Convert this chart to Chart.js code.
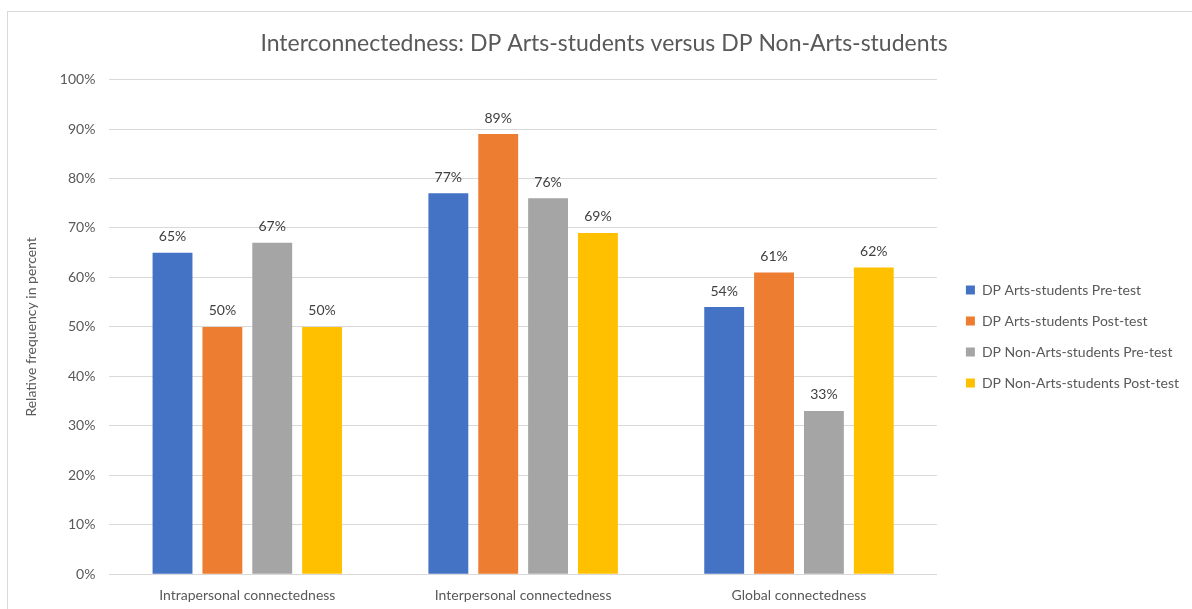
<!DOCTYPE html>
<html>
<head>
<meta charset="utf-8">
<script src="https://cdn.jsdelivr.net/npm/chart.js@4.4.0/dist/chart.umd.min.js"></script>
<style>
  html, body { margin: 0; padding: 0; background: #fff; overflow: hidden; }
  #marco { position: absolute; left: 7px; top: 11px; width: 1300px; height: 800px; border: 1px solid #d9d9d9; }
  #graficoBarras { position: absolute; left: 0; top: 0; }
</style>
</head>
<body>
<div id="marco"></div>
<canvas id="graficoBarras" width="1192" height="609"></canvas>
<script>
// Datos del gráfico
const categorias = ["Intrapersonal connectedness", "Interpersonal connectedness", "Global connectedness"];
const artsPre = [65, 77, 54];
const artsPost = [50, 89, 61];
const noArtsPre = [67, 76, 33];
const noArtsPost = [50, 69, 62];
const etiquetasSeries = [
  "DP Arts-students Pre-test",
  "DP Arts-students Post-test",
  "DP Non-Arts-students Pre-test",
  "DP Non-Arts-students Post-test",
];
const colores = ["#4472C4", "#ED7D31", "#A5A5A5", "#FFC000"];

const fuente = "Lato, 'Open Sans', sans-serif";
Chart.defaults.font.family = fuente;
Chart.defaults.color = "#595959";

// Plugin para escribir los valores encima de cada barra
const etiquetasValores = {
  id: "etiquetasValores",
  afterDatasetsDraw(chart) {
    const ctx = chart.ctx;
    ctx.save();
    ctx.font = "14px " + fuente;
    ctx.fillStyle = "#404040";
    ctx.textAlign = "center";
    ctx.textBaseline = "bottom";
    chart.data.datasets.forEach((ds, i) => {
      chart.getDatasetMeta(i).data.forEach((barra, j) => {
        ctx.fillText(ds.data[j] + "%", barra.x, barra.y - 9);
      });
    });
    ctx.restore();
  },
};

// Separar un poco más la leyenda del área del gráfico
const EXTRA_LEYENDA = 12;
const ajusteLeyenda = {
  id: "ajusteLeyenda",
  afterInit(chart) {
    const leyenda = chart.legend;
    const fitOriginal = leyenda.fit.bind(leyenda);
    leyenda.fit = function () {
      fitOriginal();
      this.width += EXTRA_LEYENDA;
    };
  },
  afterLayout(chart) {
    chart.legend.left += EXTRA_LEYENDA;
  },
};

const series = [artsPre, artsPost, noArtsPre, noArtsPost];

const ctx = document.getElementById("graficoBarras").getContext("2d");
new Chart(ctx, {
  type: "bar",
  data: {
    labels: categorias,
    datasets: series.map((datos, i) => ({
      label: etiquetasSeries[i],
      data: datos,
      backgroundColor: colores[i],
      barPercentage: 0.8,
      categoryPercentage: 0.723,
    })),
  },
  options: {
    responsive: false,
    animation: false,
    devicePixelRatio: 1,
    layout: { padding: { left: 19, right: 3, top: 30, bottom: 0 } },
    scales: {
      y: {
        min: 0,
        max: 100,
        ticks: {
          stepSize: 10,
          callback: (v) => v + "%",
          font: { size: 14 },
          padding: 14,
        },
        grid: { color: "#d9d9d9", drawTicks: false },
        border: { display: false },
        title: {
          display: true,
          text: "Relative frequency in percent",
          font: { size: 14 },
          padding: { bottom: 6 },
        },
      },
      x: {
        grid: { display: false },
        border: { color: "#d9d9d9" },
        ticks: { font: { size: 14 }, padding: 5 },
      },
    },
    plugins: {
      legend: {
        position: "right",
        title: { display: true, text: " ", font: { size: 10 }, padding: 11 },
        labels: {
          boxWidth: 9,
          boxHeight: 9,
          padding: 17,
          font: { size: 14 },
          color: "#595959",
        },
      },
      title: {
        display: true,
        text: "Interconnectedness: DP Arts-students versus DP Non-Arts-students",
        font: { size: 23, weight: "normal" },
        color: "#595959",
        padding: { top: 0, bottom: 22 },
      },
      tooltip: { enabled: false },
    },
  },
  plugins: [etiquetasValores, ajusteLeyenda],
});
</script>
</body>
</html>
